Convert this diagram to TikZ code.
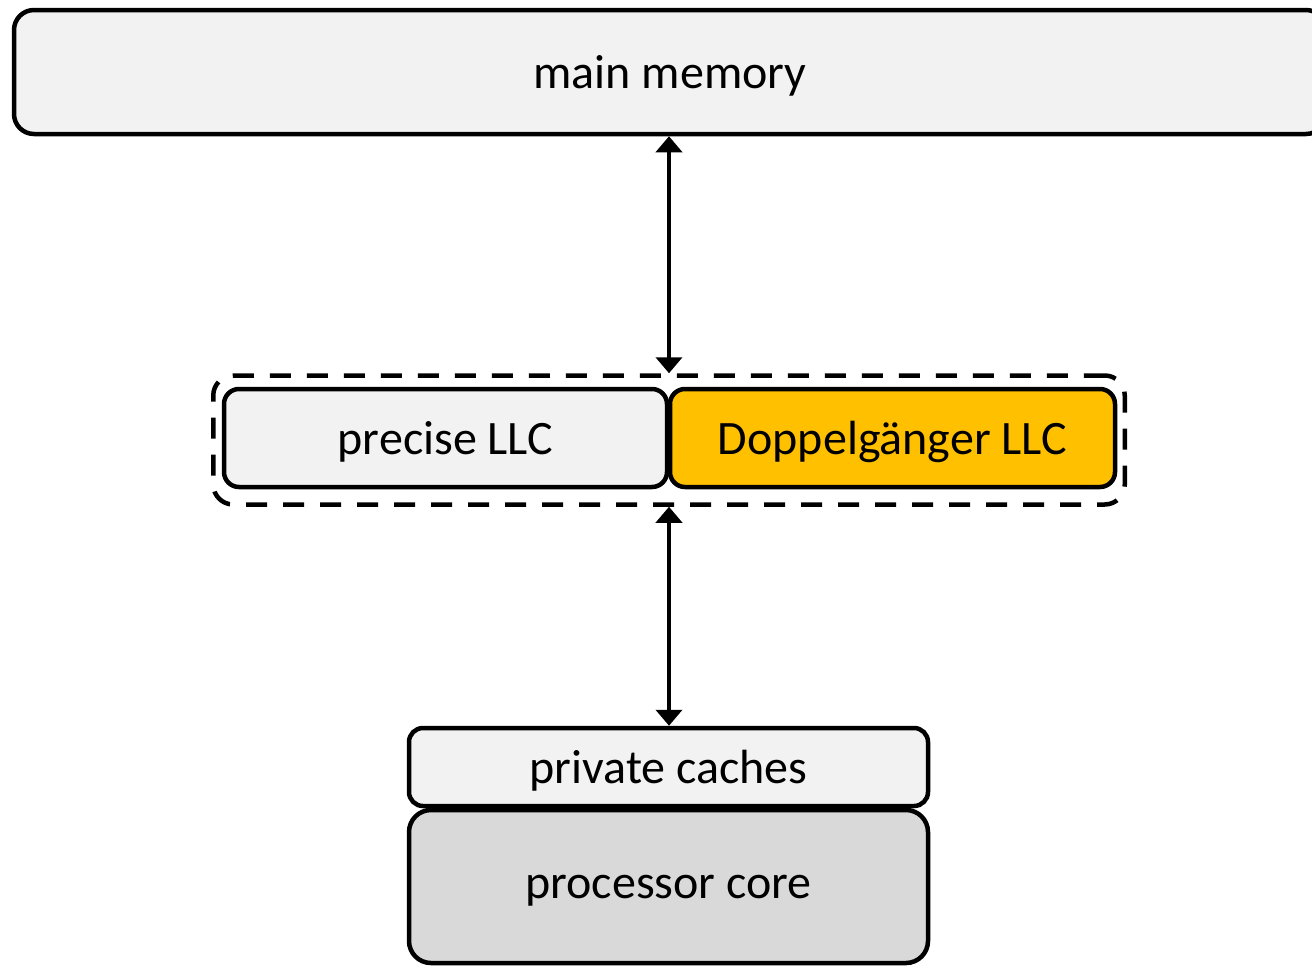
\documentclass[tikz,border=0pt]{standalone}
\usepackage{fontspec}
\setmainfont{Carlito}
\usetikzlibrary{arrows.meta}
\definecolor{boxlight}{HTML}{F2F2F2}
\definecolor{boxgrey}{HTML}{D9D9D9}
\definecolor{llcgold}{HTML}{FFC000}
\begin{document}
\begin{tikzpicture}[x=1pt,y=-1pt,
  blk/.style={draw=black,line width=4.5pt,rectangle,inner sep=0pt,text depth=0pt,
    font=\fontsize{48}{56}\selectfont},
  link/.style={line width=4pt,
    {Triangle[width=26pt,length=16pt]}-{Triangle[width=26pt,length=16pt]}}]
\useasboundingbox (0,0) rectangle (1312,967);
% main memory (runs past the right edge)
\node[blk,fill=boxlight,rounded corners=20pt,minimum width=1312pt,minimum height=124pt] (mm) at (670,72) {main memory};
% last-level cache halves
\node[blk,fill=boxlight,rounded corners=15pt,minimum width=443pt,minimum height=98pt] (prec) at (445.5,438) {precise LLC};
\node[blk,fill=llcgold,rounded corners=15pt,minimum width=445pt,minimum height=98pt] (dopp) at (892.5,438) {Doppelgänger LLC};
% dashed group around the LLC
\node[draw=black,line width=4.5pt,dash pattern=on 21pt off 16pt,rounded corners=20pt,
  minimum width=911.5pt,minimum height=129pt,inner sep=0pt] (grp) at (669,440) {};
% core side
\node[blk,fill=boxlight,rounded corners=14pt,minimum width=519pt,minimum height=78pt] (pc) at (668.5,767) {private caches};
\node[blk,fill=boxgrey,rounded corners=22pt,minimum width=519pt,minimum height=153pt] (core) at (668.5,886.5) {processor core};
% connectors
\draw[link] (grp.north) -- (grp.north |- mm.south);
\draw[link] (grp.south) -- (grp.south |- pc.north);
\end{tikzpicture}
\end{document}
